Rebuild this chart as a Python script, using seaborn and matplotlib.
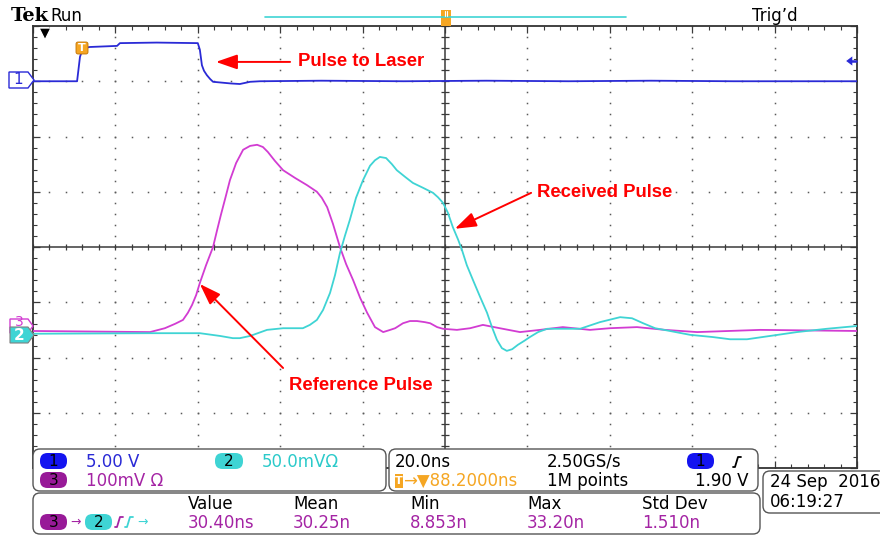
import numpy as np
import matplotlib
matplotlib.use("Agg")
import matplotlib.pyplot as plt
import seaborn as sns
from matplotlib.patches import FancyBboxPatch, Polygon, Rectangle

# ---------------- data (time in ns, amplitude in screen divisions) ----------------
ch1_t = [-100.0, -89.3, -88.6, -87.9, -86.2, -79.6, -78.9, -70.0, -60.0, -59.5, -59.0, -58.5,
         -57.8, -57.0, -56.3, -52.0, -49.8, -47.3, -44.9, -30.0, -10.0, 10.0, 30.0, 50.0, 70.0, 100.0]
ch1_v = [3.00, 3.00, 3.44, 3.60, 3.62, 3.64, 3.69, 3.70, 3.69, 3.57, 3.29, 3.19,
         3.11, 3.04, 2.99, 2.96, 2.95, 2.99, 3.00, 3.01, 3.00, 3.01, 3.00, 3.01, 3.00, 3.00]

ref_t = [-100.0, -71.6, -68.0, -65.5, -63.6, -62.4, -61.4, -60.4, -59.5, -58.0, -56.3, -55.3,
         -54.4, -53.2, -52.2, -50.7, -49.0, -47.3, -45.6, -44.2, -43.0, -41.3, -39.3, -36.4,
         -33.5, -31.1, -29.9, -28.6, -27.2, -25.5, -24.0, -22.3, -20.6, -18.9, -17.0, -15.0,
         -13.3, -12.1, -10.2, -8.5, -6.8, -4.9, -3.6, -1.9, -0.5, 2.9, 6.1, 9.2, 13.3, 18.2,
         23.1, 28.6, 35.2, 40.0, 46.6, 53.4, 61.2, 76.5, 100.0]
ref_v = [-1.52, -1.54, -1.47, -1.39, -1.32, -1.19, -1.05, -0.87, -0.65, -0.33, 0.00, 0.31,
         0.58, 0.92, 1.21, 1.52, 1.76, 1.83, 1.85, 1.81, 1.72, 1.56, 1.39, 1.25,
         1.12, 1.00, 0.89, 0.72, 0.42, 0.00, -0.31, -0.60, -0.92, -1.19, -1.45, -1.54,
         -1.50, -1.47, -1.38, -1.34, -1.34, -1.36, -1.38, -1.45, -1.48, -1.50, -1.47, -1.41, -1.47, -1.54,
         -1.50, -1.45, -1.50, -1.47, -1.45, -1.50, -1.54, -1.50, -1.52]

rx_t = [-100.0, -71.6, -59.5, -54.6, -51.5, -49.8, -47.3, -43.2, -39.3, -34.5, -32.8, -31.1,
        -29.6, -27.9, -26.7, -25.5, -24.3, -23.1, -21.6, -19.9, -18.2, -17.0, -15.8, -14.3,
        -12.9, -11.7, -9.7, -7.8, -5.3, -2.9, -1.7, -0.5, 0.7, 1.9, 3.2, 4.1, 5.3, 6.8, 8.5,
        10.2, 11.4, 12.6, 13.8, 15.0, 16.3, 17.7, 19.2, 20.6, 22.6, 24.8, 32.8, 37.6, 42.5,
        45.4, 48.1, 51.0, 54.6, 59.5, 65.0, 69.2, 73.3, 78.9, 85.4, 92.7, 100.0]
rx_v = [-1.57, -1.56, -1.56, -1.61, -1.65, -1.65, -1.61, -1.50, -1.47, -1.47, -1.41, -1.32,
        -1.14, -0.83, -0.51, -0.11, 0.20, 0.49, 0.89, 1.21, 1.47, 1.57, 1.63, 1.61,
        1.50, 1.39, 1.27, 1.16, 1.07, 0.98, 0.90, 0.80, 0.62, 0.36, 0.13, -0.05, -0.33, -0.60, -0.90,
        -1.19, -1.45, -1.68, -1.83, -1.88, -1.85, -1.77, -1.70, -1.63, -1.54, -1.48, -1.48, -1.36, -1.27,
        -1.29, -1.38, -1.47, -1.52, -1.59, -1.63, -1.67, -1.67, -1.61, -1.54, -1.48, -1.43]

header_left = ["Tek", "Run"]
header_right = "Trig\u2019d"
ch_scales = ["5.00 V", "50.0mV\u03a9", "100mV \u03a9"]
timebase = ["20.0ns", "2.50GS/s", "1.90 V"]
trig_pos = "\u2192\u25bc88.2000ns"
rec_len = "1M points"
date_lines = ["24 Sep  2016", "06:19:27"]
meas_heads = ["Value", "Mean", "Min", "Max", "Std Dev"]
meas_vals = ["30.40ns", "30.25n", "8.853n", "33.20n", "1.510n"]

BLUE = "#2a2ad6"
CYAN = "#3fd4d4"
MAG = "#d23cd2"
PURP = "#a424a4"
ORANGE = "#f5a623"
GRIDC = "#5a5a5a"

sns.set_style("white")
plt.rcParams['font.family'] = ['DejaVu Sans']

W, H = 880, 535
fig = plt.figure(figsize=(W / 100, H / 100), dpi=100)
L, R, T, B = 33, 857, 26, 468
ax = fig.add_axes([L / W, 1 - B / H, (R - L) / W, (B - T) / H])
ax.set_xlim(-100, 100)
ax.set_ylim(-4, 4)

# graticule dots
hx = np.arange(-100, 100.01, 4)
for k in [-3, -2, -1, 1, 2, 3]:
    ax.plot(hx, np.full_like(hx, k, dtype=float), ls="none", marker="s", ms=1.1,
            color=GRIDC, mew=0, zorder=1)
vy = np.arange(-4, 4.01, 0.2)
for xx in [-80, -60, -40, -20, 20, 40, 60, 80]:
    ax.plot(np.full_like(vy, xx), vy, ls="none", marker="s", ms=1.1, color=GRIDC, mew=0, zorder=1)
# center cross with ticks
ax.axhline(0, color="#3a3a3a", lw=1.1, zorder=1)
ax.axvline(0, color="#3a3a3a", lw=1.1, zorder=1)
ax.vlines(hx, -0.06, 0.06, color="#3a3a3a", lw=0.9, zorder=1)
ax.hlines(vy, -0.9, 0.9, color="#3a3a3a", lw=0.9, zorder=1)

ax.set_xticks(np.arange(-100, 101, 20))
ax.set_xticks(np.arange(-100, 101, 4), minor=True)
ax.set_yticks(np.arange(-4, 4.01, 1))
ax.set_yticks(np.arange(-4, 4.01, 0.2), minor=True)
ax.tick_params(which="both", direction="in", top=True, right=True, bottom=True, left=True,
               labelbottom=False, labelleft=False, color="#3a3a3a")
ax.tick_params(which="major", length=5, width=0.9)
ax.tick_params(which="minor", length=3, width=0.8)
for s in ax.spines.values():
    s.set_color("#333333")
    s.set_linewidth(1.3)

# traces
sns.lineplot(x=ch1_t, y=ch1_v, ax=ax, color=BLUE, lw=1.3, zorder=3)
sns.lineplot(x=ref_t, y=ref_v, ax=ax, color=MAG, lw=1.3, zorder=3)
sns.lineplot(x=rx_t, y=rx_v, ax=ax, color=CYAN, lw=1.3, zorder=3)
ax.set_xlabel("")
ax.set_ylabel("")

# annotations
afont = dict(color="red", fontsize=13.3, fontweight="bold", family=["Liberation Sans", "DejaVu Sans"])
aprops = dict(arrowstyle="-|>,head_length=1.3,head_width=0.45", color="red", lw=1.4,
              mutation_scale=10, shrinkA=0, shrinkB=0)
ax.annotate("", xy=(-55.6, 3.35), xytext=(-37.6, 3.35), arrowprops=aprops, zorder=6)
ax.text(-35.7, 3.35, "Pulse to Laser", ha="left", va="center", zorder=6, **afont)
ax.annotate("", xy=(2.4, 0.33), xytext=(20.9, 0.98), arrowprops=aprops, zorder=6)
ax.text(22.3, 0.98, "Received Pulse", ha="left", va="center", zorder=6, **afont)
ax.annotate("", xy=(-59.5, -0.67), xytext=(-39.3, -2.19), arrowprops=aprops, zorder=6)
ax.text(-37.9, -2.50, "Reference Pulse", ha="left", va="center", zorder=6, **afont)

# ---------------- overlay in pixel coordinates ----------------
ov = fig.add_axes([0, 0, 1, 1], zorder=5)
ov.set_xlim(0, W)
ov.set_ylim(H, 0)
ov.axis("off")
ov.patch.set_alpha(0)

ov.text(11, 16, header_left[0], fontsize=14, fontweight="bold", family="DejaVu Serif",
        ha="left", va="center", color="black")
ov.text(50, 16, header_left[1], fontsize=12, ha="left", va="center", color="black")
ov.text(752, 16, header_right, fontsize=12, ha="left", va="center", color="black")
ov.plot([265, 626], [17, 17], color=CYAN, lw=1.2)
ov.add_patch(Rectangle((441, 10), 10, 16, facecolor=ORANGE, edgecolor="none"))
ov.plot([445, 445], [11, 16], color="white", lw=0.8)
ov.plot([447, 447], [11, 16], color="white", lw=0.8)
ov.add_patch(Polygon([(39, 28), (51, 28), (45, 40)], closed=True, facecolor="black"))

# channel markers
ov.add_patch(Polygon([(9, 72), (28, 72), (34, 80), (28, 88), (9, 88)], closed=True,
                     facecolor="white", edgecolor=BLUE, lw=1.0))
ov.text(18, 80, "1", color=BLUE, fontsize=11, ha="center", va="center")
ov.add_patch(Polygon([(10, 319), (28, 319), (33, 326), (28, 333), (10, 333)], closed=True,
                     facecolor="white", edgecolor=MAG, lw=1.0))
ov.text(19, 322, "3", color=MAG, fontsize=10, ha="center", va="center")
ov.add_patch(Polygon([(10, 327), (28, 327), (34, 335), (28, 343), (10, 343)], closed=True,
                     facecolor=CYAN, edgecolor="#808080", lw=0.8))
ov.text(19, 335, "2", color="white", fontsize=11, fontweight="bold", ha="center", va="center")
ov.add_patch(Polygon([(845, 61), (853, 55), (853, 67)], closed=True, facecolor=BLUE))
ov.plot([851, 856], [61, 61], color=BLUE, lw=1.8)
# trigger T marker on ch1
ov.add_patch(FancyBboxPatch((76, 42), 12, 12, boxstyle="round,pad=0,rounding_size=2",
                            facecolor=ORANGE, edgecolor="#c07000", lw=0.6))
ov.text(82, 48, "T", color="white", fontsize=8, fontweight="bold", ha="center", va="center")

def panel(x, y, w, h):
    ov.add_patch(FancyBboxPatch((x, y), w, h, boxstyle="round,pad=0,rounding_size=7",
                                facecolor="white", edgecolor="#555555", lw=1.0))

def oval(x, y, w, h, fc, label, tc="black"):
    ov.add_patch(FancyBboxPatch((x, y), w, h, boxstyle="round,pad=0,rounding_size=7.5",
                                facecolor=fc, edgecolor="none"))
    ov.text(x + w / 2, y + h / 2 + 0.5, label, color=tc, fontsize=11, ha="center", va="center")

def edge(x, y, c):
    ov.plot([x, x + 2, x + 5, x + 8], [y + 5, y + 5, y - 5, y - 5], color=c, lw=1.3)

panel(33, 449, 353, 42)
panel(389, 449, 369, 42)
panel(763, 471, 125, 42)
panel(33, 493, 727, 41)

f12 = dict(fontsize=12, ha="left", va="center")
oval(40, 453, 27, 16, "#1414f0", "1")
ov.text(86, 462, ch_scales[0], color=BLUE, **f12)
oval(215, 453, 28, 16, CYAN, "2")
ov.text(262, 462, ch_scales[1], color="#2ccaca", **f12)
oval(40, 472, 27, 16, "#981a98", "3")
ov.text(86, 481, ch_scales[2], color=PURP, **f12)

ov.text(395, 462, timebase[0], color="black", **f12)
ov.text(547, 462, timebase[1], color="black", **f12)
oval(687, 453, 27, 16, "#1414f0", "1")
edge(733, 462, "black")
ov.add_patch(Rectangle((395, 474), 8, 14, facecolor=ORANGE, edgecolor="none"))
ov.text(399, 481, "T", color="white", fontsize=8, fontweight="bold", ha="center", va="center")
ov.text(403, 481, trig_pos, color=ORANGE, **f12)
ov.text(547, 481, rec_len, color="black", **f12)
ov.text(695, 481, timebase[2], color="black", **f12)

ov.text(770, 482, date_lines[0], color="black", **f12)
ov.text(770, 502, date_lines[1], color="black", **f12)

oval(40, 514, 27, 16, "#981a98", "3")
ov.text(76, 522, "\u2192", color=PURP, fontsize=9, ha="center", va="center")
oval(85, 514, 27, 16, CYAN, "2")
edge(115, 522, PURP)
edge(125, 522, CYAN)
ov.text(143, 522, "\u2192", color=CYAN, fontsize=9, ha="center", va="center")
for xh, hd, vl in zip([188, 293, 410, 527, 642], meas_heads, meas_vals):
    ov.text(xh, 504, hd, color="black", **f12)
    ov.text(xh, 523, vl, color=PURP, **f12)

fig.savefig("out.png", dpi=100)
